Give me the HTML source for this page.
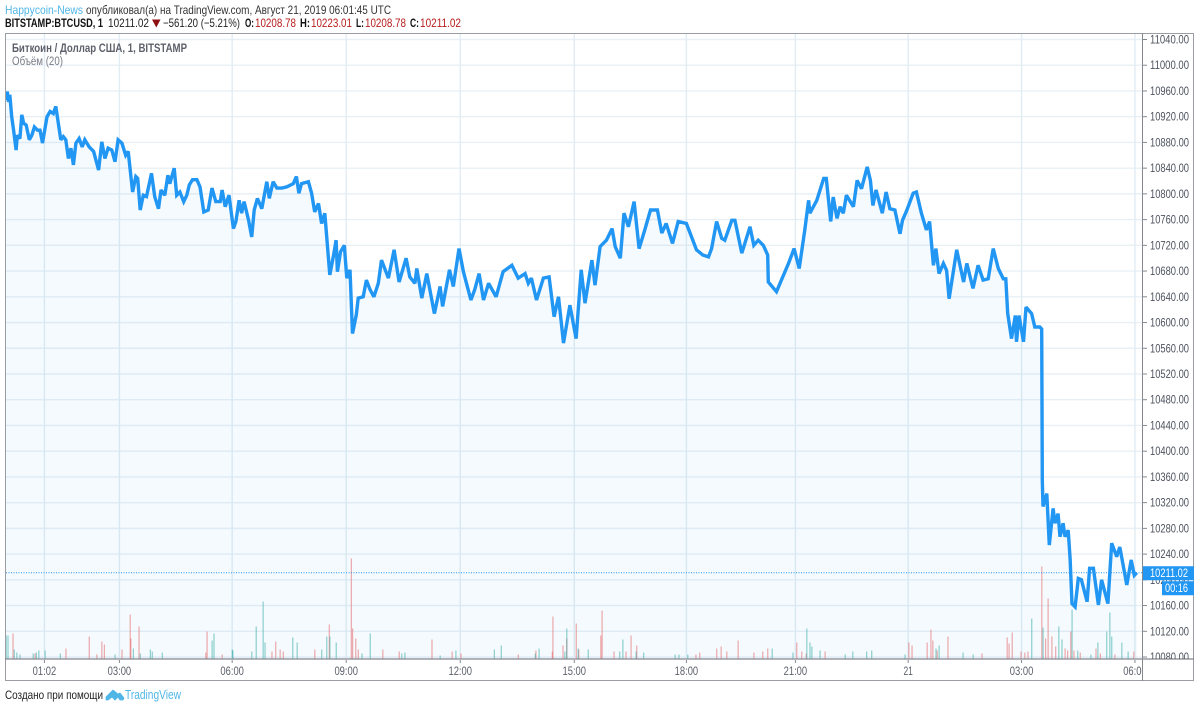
<!DOCTYPE html>
<html lang="ru">
<head>
<meta charset="utf-8">
<title>BTCUSD chart</title>
<style>
html,body{margin:0;padding:0;background:#fff;width:1200px;height:710px;overflow:hidden}
svg{display:block;font-family:"Liberation Sans","DejaVu Sans",sans-serif}
</style>
</head>
<body>
<svg id="chart" width="1200" height="710" viewBox="0 0 1200 710" xmlns="http://www.w3.org/2000/svg">
  <defs>
    <clipPath id="plot-clip"><rect x="6" y="34" width="1136" height="625"/></clipPath>
    <clipPath id="time-clip"><rect x="6" y="660" width="1136" height="20"/></clipPath>
    <clipPath id="axis-clip"><rect x="1143" y="34" width="51" height="625"/></clipPath>
  </defs>
  <g>
    <text x="5" y="14" font-size="12" fill="#4fb6e6" textLength="78" lengthAdjust="spacingAndGlyphs">Happycoin-News</text>
    <text x="86" y="14" font-size="12" fill="#333" textLength="305" lengthAdjust="spacingAndGlyphs">опубликовал(а) на TradingView.com, Август 21, 2019 06:01:45 UTC</text>
  </g>
  <g font-size="12">
    <text x="5" y="27" font-weight="bold" fill="#111" textLength="98" lengthAdjust="spacingAndGlyphs">BITSTAMP:BTCUSD, 1</text>
    <text x="108" y="27" fill="#222" textLength="41" lengthAdjust="spacingAndGlyphs">10211.02</text>
    <path d="M152 19.5h8.5l-4.2 8z" fill="#8e1010"/>
    <text x="163" y="27" fill="#222" textLength="77" lengthAdjust="spacingAndGlyphs">−561.20 (−5.21%)</text>
    <text x="245" y="27" font-weight="bold" fill="#111" textLength="9" lengthAdjust="spacingAndGlyphs">O:</text>
    <text x="255" y="27" fill="#b71c1c" textLength="41" lengthAdjust="spacingAndGlyphs">10208.78</text>
    <text x="300" y="27" font-weight="bold" fill="#111" textLength="10" lengthAdjust="spacingAndGlyphs">H:</text>
    <text x="311" y="27" fill="#b71c1c" textLength="41" lengthAdjust="spacingAndGlyphs">10223.01</text>
    <text x="356" y="27" font-weight="bold" fill="#111" textLength="8" lengthAdjust="spacingAndGlyphs">L:</text>
    <text x="365" y="27" fill="#b71c1c" textLength="41" lengthAdjust="spacingAndGlyphs">10208.78</text>
    <text x="410" y="27" font-weight="bold" fill="#111" textLength="9" lengthAdjust="spacingAndGlyphs">C:</text>
    <text x="420" y="27" fill="#b71c1c" textLength="41" lengthAdjust="spacingAndGlyphs">10211.02</text>
  </g>
  <g id="grid"></g>
  <g id="volume" clip-path="url(#plot-clip)"></g>
  <g id="price" clip-path="url(#plot-clip)"></g>
  <g id="axes"></g>
  <text x="12" y="52" font-size="11.5" font-weight="bold" fill="#5d606b" textLength="175" lengthAdjust="spacingAndGlyphs">Биткоин / Доллар США, 1, BITSTAMP</text>
  <text x="12" y="65" font-size="11.5" fill="#787b86" textLength="51" lengthAdjust="spacingAndGlyphs">Объём (20)</text>
  <g>
    <text x="5" y="699" font-size="12" fill="#222" textLength="98" lengthAdjust="spacingAndGlyphs">Создано при помощи</text>
    <path d="M106 697l7-7 5 4 2-1 4 5-1 2h-3l-2-3-3 3-3-3-4 3h-2z" fill="#4fb6e6" stroke="#4fb6e6" stroke-width="0.8"/>
    <text x="125" y="699" font-size="12.5" fill="#4fb6e6" textLength="56" lengthAdjust="spacingAndGlyphs">TradingView</text>
  </g>
</svg>
<script>
// Bar index (1-minute bars from the left edge) and close price.
var priceBars = [0,2,4,6,9,12,16,18,22,25,28,32,37,41,45,50,54,58,65,70,75,79,83,87,91,95,99,103,107,111,116,121,125,132,139,147,152,157,162,168,173,178,184,190,194,201,206,209,213,218,223,231,236,242,246,252,257,260,267,271,276,282,287,291,296,303,308,314,321,327,333,340,343,348,354,361,365,370,374,378,385,390,394,399,406,414,418,424,430,438,446,456,461,465,469,480,485,490,496,501,506,514,520,524,526,531,537,541,546,550,556,559,567,572,578,584,591,596,607,616,624,
635,641,649,652,660,668,680,689,693,704,710,719,726,738,744,751,758,766,778,789,803,813,824,829,834,842,853,862,870,877,885,895,905,913,919,930,935,943,953,962,967,975,981,988,997,1005,1014,1023,1034,1041,1048,1058,1067,1080,1096,1106,1115,1120,1128,1136,1141,1152,1157,1168,1181,1187,1194,1202,1209,1210,1223,1242,1251,1259,
1268,1274,1276,1287,1298,1302,1309,1313,1319,1324,1329,1334,1345,1351,1358,1367,1372,1376,1381,1391,1397,1403,1411,1419,1423,1430,1440,1445,1453,1461,1466,1472,1476,1481,1488,1493,1497,1509,1520,1525,1535,1543,1551,1559,1567,1575,1583,1587,1590,1596,1602,1604,1608,1615,1619,1628,1633,1641,1644,
1645,1646,1652,1656,1662,1665,1670,1673,1678,1681,1686,1689,1692,1697,1702,1707,1716,1720,1726,1734,1739,1749,1755,1763,1768,1779,1786,1791,1795];
var priceValues = [10946,10959,10943,10954,10920,10899,10868,10891,10886,10923,10910,10907,10884,10891,10904,10899,10899,10879,10920,10928,10925,10936,10910,10884,10889,10884,10855,10871,10845,10879,10886,10873,10884,10873,10866,10837,10881,10855,10871,10868,10850,10884,10879,10860,10866,10803,10827,10824,10775,10798,10796,10832,10796,10777,10806,10798,10829,10816,10840,10798,10803,10788,10798,10814,10822,10822,10811,10772,10775,10809,10788,10788,10806,10780,10798,10746,10757,10790,10770,10788,10759,10733,10775,10793,10777,10819,10793,10819,10809,10809,10811,10816,10827,10801,10816,10819,10801,10772,10785,10754,10770,10674,10705,10728,10679,10710,10720,10669,10682,10583,10612,10638,10640,10666,10651,10640,10661,10697,10669,10713,10663,
10700,10671,10661,10684,10638,10676,10614,10656,10625,10682,10656,10715,10679,10635,10651,10676,10635,10661,10640,10679,10689,10669,10676,10661,10669,10635,10669,10671,10609,10640,10568,10627,10575,10682,10630,10697,10658,10718,10728,10746,10718,10700,10770,10749,10788,10715,10744,10775,10775,10739,10754,10723,10757,10754,10713,10705,10702,10715,10757,10731,10728,10759,10759,10708,10749,10720,10728,10720,10705,10663,10648,10692,10715,10684,
10744,10790,10770,10790,10824,10824,10757,10795,10762,10780,10770,10798,10780,10821,10808,10842,10821,10782,10806,10770,10803,10777,10775,10738,10759,10775,10801,10803,10770,10744,10757,10689,10715,10676,10692,10681,10637,10713,10663,10692,10653,10689,10666,10668,10715,10684,10668,10668,10614,10575,10611,10570,10611,10570,10624,10614,10593,10593,10590,
10355,10314,10334,10254,10311,10288,10303,10267,10288,10267,10277,10233,10163,10158,10202,10200,10166,10218,10218,10161,10200,10163,10257,10236,10251,10192,10231,10207,10211.02];
var lastPrice = 10211.02;
var countdownLabel = "00:16";

// Volume bars, split by candle direction.
var downBars = [11,46,95,132,144,152,156,184,197,198,211,317,319,343,422,428,435,440,490,513,548,550,555,559,598,624,676,708,722,813,841,867,868,884,890,905,909,944,946,965,984,992,1001,1095,1101,1128,1135,1144,1162,1187,1201,1209,1255,1263,1270,1300,1433,1438,1462,1468,1471,1478,1495,1549,1589,1592,1597,1611,1617,1622,1644,1650,1654,1660,1666,1681,1685,1690,1695,1705,1730,1737,1760,1790];
var downVolumes = [25,5,10,22,4,17,14,9,44,20,32,6,27,4,7,17,9,7,9,34,100,30,20,9,9,7,19,7,5,4,8,7,42,13,20,35,9,23,48,7,7,23,13,4,6,10,12,7,18,6,7,10,16,7,5,7,16,13,16,29,18,8,22,5,21,15,26,7,6,7,92,20,60,22,12,10,8,27,8,6,10,5,4,7];
var upBars = [0,3,13,17,22,43,48,52,62,86,173,202,213,229,232,248,327,330,359,360,390,397,408,411,455,462,501,509,514,524,565,578,628,633,689,714,775,786,840,846,887,890,908,924,974,979,1000,1012,1062,1068,1082,1216,1249,1271,1276,1279,1292,1332,1344,1366,1374,1427,1476,1481,1519,1535,1628,1646,1671,1676,1692,1701,1722,1733,1747,1752,1755,1771,1781];
var upVolumes = [23,23,9,6,4,5,6,8,8,5,4,10,5,9,7,6,18,25,9,8,7,32,57,16,21,16,9,22,22,16,5,25,5,6,3,8,9,13,5,10,7,30,10,9,7,19,7,6,4,4,4,10,6,30,16,12,8,4,7,7,8,4,10,13,6,4,40,31,32,19,49,8,4,16,27,46,22,16,7];

// Axis labels.
var priceTicks = [11040,11000,10960,10920,10880,10840,10800,10760,10720,10680,10640,10600,10560,10520,10480,10440,10400,10360,10320,10280,10240,10200,10160,10120,10080];
var timeTickBars = [61,180,359,540,721,902,1080,1253,1432,1612,1792];
var timeTickLabels = ["01:02","03:00","06:00","09:00","12:00","15:00","18:00","21:00","21","03:00","06:00"];

var SVGNS = "http://www.w3.org/2000/svg";
function xOf(bar){ return 6 + bar * 0.63; }
function yOf(price){ return 39.5 + (11040 - price) * 0.64325; }
function hOf(vol){ return vol * 1.0; }
var plotBottom = 658.5;
function make(tag, parent, attrs){
  var el = document.createElementNS(SVGNS, tag);
  for (var k in attrs) el.setAttribute(k, attrs[k]);
  parent.appendChild(el);
  return el;
}
var grid = document.getElementById("grid");
var axes = document.getElementById("axes");
var volume = document.getElementById("volume");
var pricePane = document.getElementById("price");

priceTicks.forEach(function(p){
  var l = make("line", grid, {x1:6, x2:1142, y1:yOf(p), y2:yOf(p), stroke:"#e8f0f5", "stroke-width":1.4});
  
  
});
timeTickBars.forEach(function(b){
  var l = make("line", grid, {x1:xOf(b), x2:xOf(b), y1:34, y2:658, stroke:"#e1ecf3", "stroke-width":1.4});
  
  
});

var linePts = priceBars.map(function(b,i){ return xOf(b).toFixed(1)+","+yOf(priceValues[i]).toFixed(1); });
var area = make("polygon", pricePane, {
  points: xOf(priceBars[0]).toFixed(1)+","+plotBottom+" "+linePts.join(" ")+" "+xOf(priceBars[priceBars.length-1]).toFixed(1)+","+plotBottom,
  fill:"#2196f3", "fill-opacity":"0.05"
});



function drawVolume(bars, vols, color, name){
  bars.forEach(function(b,i){
    var h = hOf(vols[i]);
    var r = make("rect", volume, {x:xOf(b)-0.5, y:plotBottom-h, width:1.2, height:h, fill:color, "fill-opacity":"0.5"});
    
    
  });
}
drawVolume(downBars, downVolumes, "#ef5350", "volume-bar-down");
drawVolume(upBars, upVolumes, "#26a69a", "volume-bar-up");

var lastLine = make("line", pricePane, {x1:6, x2:1142, y1:yOf(lastPrice), y2:yOf(lastPrice), stroke:"#2196f3", "stroke-width":1, "stroke-dasharray":"1 1.5"});



var line = make("polyline", pricePane, {points:linePts.join(" "), fill:"none", stroke:"#2196f3", "stroke-width":3.4, "stroke-linejoin":"miter", "stroke-miterlimit":"2.5"});



// Frame
var frame = make("rect", axes, {x:5.5, y:33.5, width:1188, height:647, fill:"none", stroke:"#9a9da3", "stroke-width":1});


var priceAxisLine = make("line", axes, {x1:1142.5, x2:1142.5, y1:33, y2:681, stroke:"#85888f", "stroke-width":1});


var timeAxisLine = make("line", axes, {x1:5, x2:1194, y1:659, y2:659, stroke:"#85888f", "stroke-width":1.2});



var priceLabelGroup = make("g", axes, {"clip-path":"url(#axis-clip)"});


priceTicks.forEach(function(p){
  var t = make("line", priceLabelGroup, {x1:1143, x2:1147, y1:yOf(p), y2:yOf(p), stroke:"#85888f", "stroke-width":1});
  
  
  var s = make("text", priceLabelGroup, {x:1150, y:yOf(p)+4, "font-size":"11.5", fill:"#4c525e", textLength:"39", lengthAdjust:"spacingAndGlyphs"});
  s.textContent = p.toFixed(2);
  
  
});

var timeLabelGroup = make("g", axes, {"clip-path":"url(#time-clip)"});


timeTickBars.forEach(function(b,i){
  var t = make("line", timeLabelGroup, {x1:xOf(b), x2:xOf(b), y1:660, y2:663, stroke:"#85888f", "stroke-width":1});
  
  
  var s = make("text", timeLabelGroup, {x:xOf(b), y:675, "font-size":"11.5", fill:"#5d606b", "text-anchor":"middle", textLength:String(timeTickLabels[i].length*4.7), lengthAdjust:"spacingAndGlyphs"});
  s.textContent = timeTickLabels[i];
  
  
});

var lastY = yOf(lastPrice);
var lastBox = make("rect", axes, {x:1143, y:lastY-6.5, width:51, height:14, fill:"#2196f3"});


var lastText = make("text", axes, {x:1150, y:lastY+4.5, "font-size":"11.5", fill:"#fff", textLength:"38", lengthAdjust:"spacingAndGlyphs"});
lastText.textContent = lastPrice.toFixed(2);


var cdBox = make("rect", axes, {x:1162, y:lastY+8.5, width:32, height:14, fill:"#2196f3"});


var cdText = make("text", axes, {x:1165, y:lastY+19.5, "font-size":"11.5", fill:"#fff", textLength:"23", lengthAdjust:"spacingAndGlyphs"});
cdText.textContent = countdownLabel;


</script>
</body>
</html>
